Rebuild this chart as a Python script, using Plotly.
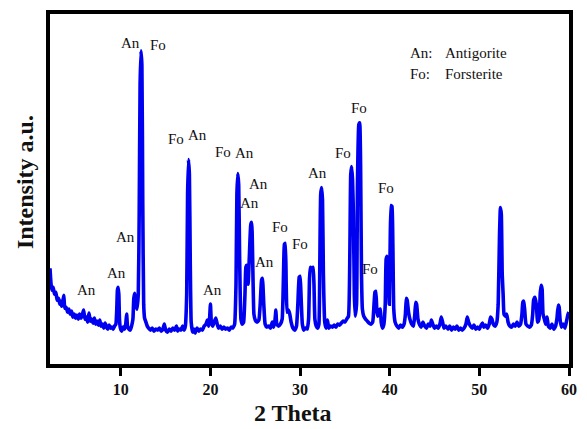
import plotly.graph_objects as go

# ---- data (2θ in degrees, intensity in arbitrary units) ----
two_theta = [
    2.1, 2.2, 2.3, 2.45, 2.6, 2.75, 2.9, 3.05, 3.2, 3.3, 3.4, 3.5, 3.64, 3.75, 3.9, 4.05, 4.2, 4.35, 4.5, 4.65,
    4.8, 4.95, 5.1, 5.25, 5.4, 5.55, 5.7, 5.85, 6.0, 6.15, 6.3, 6.45, 6.6, 6.75, 6.9, 7.05, 7.2, 7.35, 7.5, 7.65,
    7.8, 7.95, 8.1, 8.25, 8.4, 8.55, 8.7, 8.85, 9.0, 9.15, 9.3, 9.45, 9.55, 9.62, 9.7, 9.78, 9.85, 9.95, 10.1, 10.25,
    10.4, 10.55, 10.65, 10.75, 10.9, 11.05, 11.2, 11.35, 11.45, 11.55, 11.65, 11.8, 11.95, 12.05, 12.15, 12.25, 12.35, 12.45, 12.55, 12.65,
    12.8, 12.95, 13.1, 13.3, 13.5, 13.7, 13.9, 14.1, 14.3, 14.5, 14.7, 14.85, 15.0, 15.2, 15.4, 15.6, 15.8, 16.0, 16.2, 16.35,
    16.5, 16.7, 16.9, 17.05, 17.2, 17.35, 17.45, 17.55, 17.65, 17.75, 17.85, 18.0, 18.15, 18.3, 18.5, 18.7, 18.9, 19.1, 19.3, 19.5,
    19.65, 19.8, 19.9, 20.0, 20.1, 20.25, 20.4, 20.6, 20.75, 20.9, 21.1, 21.3, 21.5, 21.7, 21.9, 22.1, 22.3, 22.5, 22.7, 22.85,
    22.95, 23.05, 23.15, 23.25, 23.4, 23.55, 23.7, 23.85, 23.95, 24.05, 24.2, 24.35, 24.5, 24.6, 24.7, 24.85, 25.0, 25.2, 25.4, 25.55,
    25.7, 25.8, 25.95, 26.1, 26.3, 26.5, 26.7, 26.9, 27.05, 27.2, 27.3, 27.4, 27.6, 27.8, 28.0, 28.15, 28.25, 28.35, 28.45, 28.55,
    28.7, 28.85, 29.0, 29.2, 29.4, 29.6, 29.75, 29.9, 30.0, 30.1, 30.25, 30.4, 30.6, 30.8, 30.95, 31.05, 31.15, 31.3, 31.45, 31.55,
    31.65, 31.8, 31.95, 32.1, 32.2, 32.3, 32.4, 32.5, 32.6, 32.75, 32.9, 33.05, 33.2, 33.4, 33.6, 33.8, 34.0, 34.2, 34.4, 34.6,
    34.8, 35.0, 35.2, 35.4, 35.55, 35.65, 35.75, 35.85, 35.95, 36.05, 36.15, 36.3, 36.4, 36.55, 36.65, 36.75, 36.85, 36.95, 37.1, 37.3,
    37.5, 37.7, 37.9, 38.1, 38.25, 38.35, 38.45, 38.55, 38.65, 38.8, 38.95, 39.05, 39.2, 39.35, 39.5, 39.6, 39.7, 39.8, 39.95, 40.05,
    40.15, 40.25, 40.35, 40.45, 40.6, 40.8, 41.0, 41.2, 41.4, 41.6, 41.75, 41.85, 41.95, 42.1, 42.25, 42.45, 42.65, 42.8, 42.9, 43.0,
    43.15, 43.3, 43.5, 43.7, 43.9, 44.1, 44.3, 44.5, 44.65, 44.8, 45.0, 45.2, 45.4, 45.6, 45.75, 45.9, 46.05, 46.25, 46.5, 46.7,
    46.9, 47.1, 47.3, 47.5, 47.7, 47.9, 48.1, 48.3, 48.5, 48.65, 48.8, 49.0, 49.2, 49.4, 49.6, 49.8, 50.0, 50.2, 50.35, 50.5,
    50.7, 50.9, 51.1, 51.25, 51.4, 51.55, 51.75, 51.95, 52.1, 52.25, 52.35, 52.45, 52.55, 52.65, 52.75, 52.9, 53.05, 53.2, 53.4, 53.6,
    53.8, 54.0, 54.2, 54.4, 54.6, 54.75, 54.85, 54.95, 55.05, 55.2, 55.4, 55.6, 55.8, 55.95, 56.05, 56.2, 56.35, 56.5, 56.65, 56.8,
    56.9, 57.0, 57.1, 57.25, 57.4, 57.55, 57.7, 57.9, 58.1, 58.3, 58.5, 58.65, 58.8, 58.9, 59.0, 59.15, 59.35, 59.55, 59.75, 59.9,
    60.0,
]
intensity = [
    96, 82, 74, 77, 70, 72, 64, 66, 60, 63, 58, 61, 69, 56, 57, 52, 55, 50, 53, 47,
    50, 46, 49, 45, 50, 46, 49, 54, 45, 47, 42, 51, 43, 45, 41, 46, 40, 43, 39, 44,
    38, 40, 36, 41, 37, 35, 39, 36, 37, 35, 38, 40, 55, 74, 77, 70, 45, 36, 33, 37,
    35, 40, 50, 38, 35, 34, 38, 45, 66, 71, 62, 55, 70, 150, 280, 314, 300, 160, 60, 46,
    42, 38, 36, 34, 36, 33, 35, 34, 36, 33, 35, 40, 34, 32, 35, 33, 36, 34, 38, 33,
    35, 34, 38, 34, 38, 70, 170, 205, 190, 100, 42, 32, 35, 31, 36, 33, 35, 34, 38, 40,
    44, 38, 45, 60, 42, 38, 42, 46, 40, 36, 38, 35, 37, 35, 36, 34, 37, 36, 40, 80,
    170, 191, 180, 110, 45, 40, 42, 70, 97, 99, 80, 110, 140, 142, 110, 50, 44, 42, 44, 60,
    84, 86, 60, 40, 37, 38, 36, 42, 37, 44, 54, 40, 38, 40, 45, 90, 120, 121, 80, 52,
    54, 50, 42, 36, 34, 38, 60, 87, 88, 70, 40, 34, 36, 35, 45, 85, 97, 96, 97, 80,
    45, 38, 36, 40, 100, 170, 177, 165, 90, 42, 36, 44, 36, 38, 37, 39, 37, 40, 39, 41,
    43, 42, 45, 48, 110, 190, 198, 185, 150, 70, 48, 60, 180, 240, 242, 200, 90, 55, 48, 45,
    43, 41, 40, 42, 60, 72, 73, 55, 48, 54, 55, 42, 36, 40, 60, 105, 108, 100, 60, 120,
    159, 158, 120, 55, 42, 38, 36, 39, 37, 40, 50, 66, 64, 52, 45, 40, 38, 50, 62, 60,
    45, 40, 37, 42, 38, 36, 40, 38, 44, 40, 36, 38, 36, 40, 47, 42, 36, 38, 35, 38,
    34, 37, 35, 38, 34, 36, 34, 36, 40, 47, 42, 38, 36, 39, 35, 37, 35, 39, 41, 37,
    39, 36, 40, 47, 45, 40, 38, 42, 60, 130, 157, 150, 90, 70, 50, 48, 50, 42, 38, 37,
    40, 38, 42, 38, 40, 50, 62, 63, 55, 40, 38, 37, 39, 50, 64, 67, 60, 42, 45, 72,
    79, 75, 50, 45, 40, 47, 38, 36, 40, 35, 38, 45, 59, 57, 45, 37, 40, 36, 44, 50,
    52,
]

x_ticks = [10, 20, 30, 40, 50, 60]

# peak labels
label_text = ["An", "An", "An", "An", "Fo", "Fo", "An", "Fo", "An", "An",
              "An", "An", "An", "Fo", "Fo", "An", "Fo", "Fo", "Fo", "Fo"]
label_x = [6.16, 9.56, 10.55, 11.1, 14.17, 16.14, 18.55, 21.4, 23.8, 25.35,
           24.36, 20.2, 26.0, 27.76, 29.96, 31.93, 34.78, 36.54, 37.85, 39.6]
label_y = [74, 91, 127, 322, 320, 226, 230, 213, 212, 181,
           161, 74, 102, 137, 120, 192, 212, 257, 95, 177]

key_abbr = ["An:", "Fo:"]
key_name = ["Antigorite", "Forsterite"]

SERIF = "Liberation Serif"

fig = go.Figure()
fig.add_trace(go.Scatter(
    x=two_theta, y=intensity, mode="lines",
    line=dict(color="#0000f0", width=3.6, shape="spline", smoothing=0.4),
    showlegend=False, hoverinfo="skip",
))

annotations = []
for t, x, y in zip(label_text, label_x, label_y):
    annotations.append(dict(x=x, y=y, xref="x", yref="y", text=t, showarrow=False,
                            font=dict(family=SERIF, size=15, color="#111111"),
                            xanchor="center", yanchor="middle"))
for i, (a, n) in enumerate(zip(key_abbr, key_name)):
    yy = 312 - 21 * i
    annotations.append(dict(x=42.0, y=yy, xref="x", yref="y", text=a, showarrow=False,
                            font=dict(family=SERIF, size=15, color="#111111"),
                            xanchor="left", yanchor="middle"))
    annotations.append(dict(x=45.9, y=yy, xref="x", yref="y", text=n, showarrow=False,
                            font=dict(family=SERIF, size=15, color="#111111"),
                            xanchor="left", yanchor="middle"))

# axis titles
annotations.append(dict(x=29.2, y=-0.14, xref="x", yref="paper", text="<b>2 Theta</b>",
                        showarrow=False, font=dict(family=SERIF, size=24, color="#111111"),
                        xanchor="center", yanchor="middle"))
annotations.append(dict(x=-0.048, y=0.52, xref="paper", yref="paper", text="<b>Intensity a.u.</b>",
                        showarrow=False, textangle=-90,
                        font=dict(family=SERIF, size=24, color="#111111"),
                        xanchor="center", yanchor="middle"))

fig.update_layout(
    width=587, height=429,
    margin=dict(l=50, r=10, t=13, b=65),
    paper_bgcolor="white", plot_bgcolor="white",
    annotations=annotations,
    xaxis=dict(range=[2.1, 60], tickvals=x_ticks, ticks="outside", ticklen=8, tickwidth=3,
               tickcolor="black", showline=True, linewidth=4, linecolor="black", mirror=True,
               showgrid=False, zeroline=False,
               tickfont=dict(family=SERIF, size=16, color="#111111", weight="bold")),
    yaxis=dict(range=[0, 351], showticklabels=False, ticks="", showline=True, linewidth=4,
               linecolor="black", mirror=True, showgrid=False, zeroline=False),
)

fig.write_html("out.html")
